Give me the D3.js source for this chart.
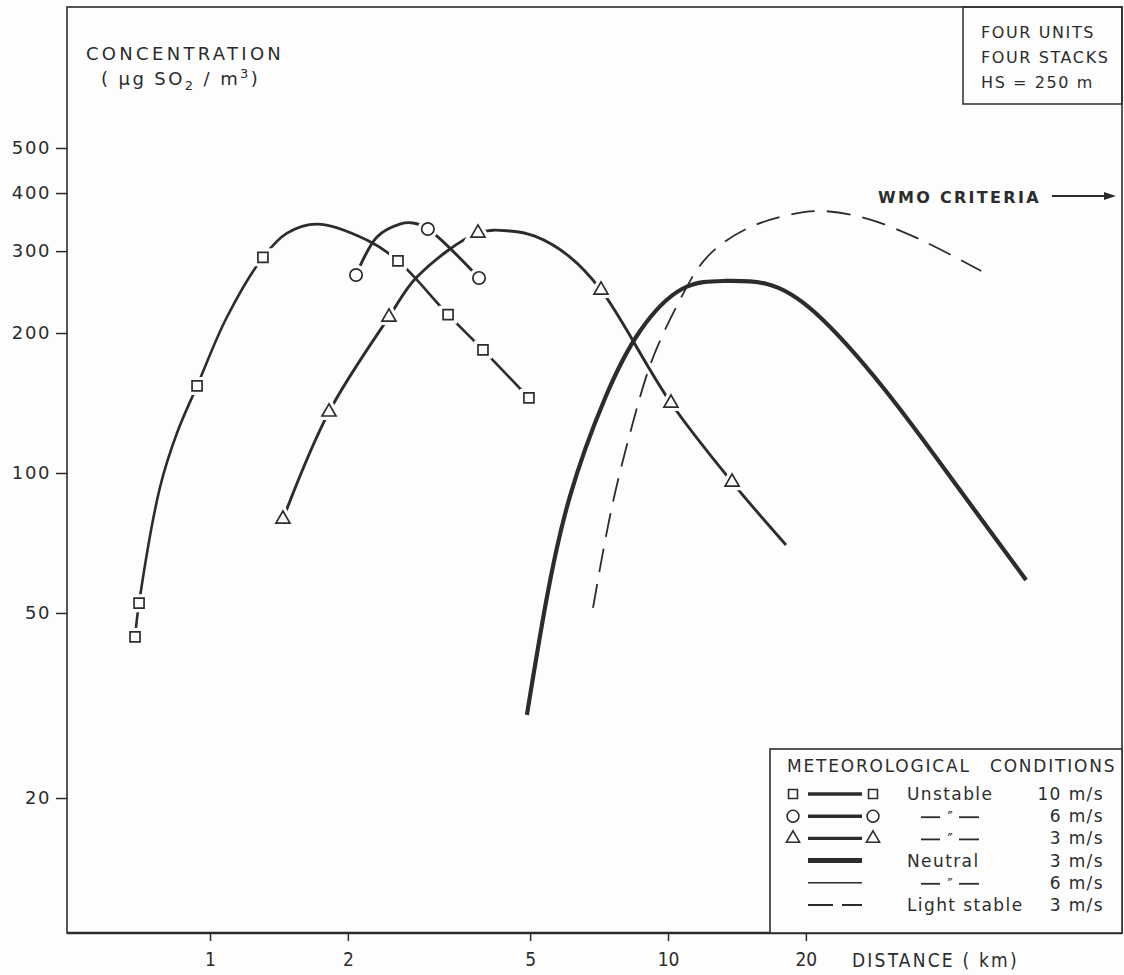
<!DOCTYPE html>
<html>
<head>
<meta charset="utf-8">
<script src="https://cdn.jsdelivr.net/npm/d3@7"></script>
<style>
  html, body { margin: 0; padding: 0; background: #fdfdfd; }
  svg { display: block; font-family: "DejaVu Sans", "Liberation Sans", sans-serif; }
</style>
</head>
<body>
<svg id="chart" width="1124" height="975"></svg>
<script>
// Ground-level SO2 concentration versus distance from the stacks (log-log)
const distanceTicks = [1, 2, 5, 10, 20];
const concentrationTicks = [20, 50, 100, 200, 300, 400, 500];

// Unstable, 10 m/s (squares)
const unstable10Dist = [0.686, 0.70, 0.778, 0.847, 0.937, 1.089, 1.305, 1.473, 1.713, 2.2, 2.573, 3.31, 3.945, 4.97];
const unstable10Conc = [44.4, 52.5, 93.3, 121.9, 153.9, 216.5, 291, 328, 343, 317, 286, 219, 184, 145];
const unstable10Marked = [0, 1, 4, 6, 10, 11, 12, 13];

// Unstable, 6 m/s (circles)
const unstable6Dist = [2.084, 2.315, 2.598, 2.775, 2.99, 3.867];
const unstable6Conc = [266.6, 321.9, 343, 344.9, 334.8, 262.7];
const unstable6Marked = [0, 4, 5];

// Unstable, 3 m/s (triangles)
const unstable3Dist = [1.443, 1.819, 2.459, 2.83, 3.847, 4.52, 5.12, 6.11, 7.14, 10.15, 13.8, 18.1];
const unstable3Conc = [79.6, 135.3, 216.5, 264, 328.2, 331.5, 323, 291.4, 247.5, 141.4, 95.6, 70.0];
const unstable3Marked = [0, 1, 2, 4, 8, 9, 10];

// Neutral, 3 m/s
const neutral3Dist = [4.92, 5.42, 6.11, 7.29, 8.69, 10.73, 13.32, 16.45, 21.0, 29.9, 42.6, 60.5];
const neutral3Conc = [30.2, 53.0, 89.2, 145.0, 202, 248.7, 258.8, 255, 220.8, 150.1, 94.2, 58.9];

// Light stable, 3 m/s
const stable3Dist = [6.86, 7.55, 8.39, 9.32, 10.73, 12.17, 14.8, 18.28, 21.8, 27.3, 35.7, 48.3];
const stable3Conc = [51.3, 84.9, 128.7, 179.4, 240.3, 291.4, 334.7, 358.7, 365.9, 351.8, 317, 271.9];

// Legend rows (null condition = ditto mark)
const legendConditions = ["Unstable", null, null, "Neutral", null, "Light stable"];
const legendSpeeds = ["10 m/s", "6 m/s", "3 m/s", "3 m/s", "6 m/s", "3 m/s"];

const INK = "#2c2c2c";
const PAPER = "#fdfdfd";
const svg = d3.select("#chart");

const x = d3.scaleLog().domain([1, 10]).range([210, 668]);
const y = d3.scaleLog().domain([10, 1000]).range([938, 8]);

// plot frame
const frame = { left: 67, top: 7, right: 1122, bottom: 933 };
svg.append("rect")
  .attr("x", frame.left).attr("y", frame.top)
  .attr("width", frame.right - frame.left).attr("height", frame.bottom - frame.top)
  .attr("fill", "none").attr("stroke", INK).attr("stroke-width", 1.6);
svg.append("line")
  .attr("x1", frame.left).attr("x2", frame.right)
  .attr("y1", frame.bottom).attr("y2", frame.bottom)
  .attr("stroke", INK).attr("stroke-width", 2.6);

// axes
const xAxis = svg.append("g")
  .attr("transform", `translate(0,${frame.bottom})`)
  .call(d3.axisBottom(x).tickValues(distanceTicks).tickFormat(d3.format("d")).tickSize(8).tickPadding(12));
xAxis.select(".domain").remove();
xAxis.selectAll("line").attr("stroke", INK).attr("stroke-width", 1.5);
xAxis.selectAll("text")
  .attr("fill", INK)
  .style("font-family", "'DejaVu Sans Condensed', 'Liberation Sans Narrow', 'DejaVu Sans', sans-serif")
  .style("font-size", "19px");

const yAxis = svg.append("g")
  .attr("transform", `translate(${frame.left},0)`)
  .call(d3.axisLeft(y).tickValues(concentrationTicks).tickFormat(d3.format("d")).tickSize(11).tickPadding(5));
yAxis.select(".domain").remove();
yAxis.selectAll("line").attr("stroke", INK).attr("stroke-width", 1.5);
yAxis.selectAll("text")
  .attr("fill", INK)
  .style("font-family", "'DejaVu Sans', sans-serif")
  .style("font-size", "18px")
  .style("letter-spacing", "1.6px");

// axis titles
const yTitle = svg.append("g").attr("fill", INK).style("font-size", "18px");
yTitle.append("text").attr("x", 86).attr("y", 60)
  .style("letter-spacing", "3.3px").text("CONCENTRATION");
const unitText = yTitle.append("text").attr("x", 101).attr("y", 85).style("letter-spacing", "2.4px");
unitText.append("tspan").text("( \u03bcg SO");
unitText.append("tspan").attr("dy", 5).style("font-size", "13px").text("2");
unitText.append("tspan").attr("dy", -5).text(" / m");
unitText.append("tspan").attr("dy", -7).style("font-size", "13px").text("3");
unitText.append("tspan").attr("dy", 7).text(")");

svg.append("text")
  .attr("x", 852).attr("y", 967)
  .attr("fill", INK)
  .style("font-family", "'DejaVu Sans Condensed', 'Liberation Sans Narrow', 'DejaVu Sans', sans-serif")
  .style("font-size", "19px")
  .style("letter-spacing", "2.2px")
  .text("DISTANCE ( km)");

// curves: centripetal Catmull-Rom through the marked series,
// natural splines for the long unmarked neutral / stable curves
const lineThrough = d3.line().x(d => x(d[0])).y(d => y(d[1])).curve(d3.curveCatmullRom.alpha(0.5));
const lineSmooth = d3.line().x(d => x(d[0])).y(d => y(d[1])).curve(d3.curveNatural);

function pairs(dist, conc) { return dist.map((d, i) => [d, conc[i]]); }

const curves = [
  { pts: pairs(stable3Dist, stable3Conc), width: 1.8, dash: "24,12", gen: lineSmooth },
  { pts: pairs(neutral3Dist, neutral3Conc), width: 4.2, dash: null, gen: lineSmooth },
  { pts: pairs(unstable10Dist, unstable10Conc), width: 2.6, dash: null, gen: lineThrough },
  { pts: pairs(unstable6Dist, unstable6Conc), width: 2.9, dash: null, gen: lineThrough },
  { pts: pairs(unstable3Dist, unstable3Conc), width: 2.9, dash: null, gen: lineThrough }
];

svg.append("g").selectAll("path").data(curves).join("path")
  .attr("d", d => d.gen(d.pts))
  .attr("fill", "none")
  .attr("stroke", INK)
  .attr("stroke-width", d => d.width)
  .attr("stroke-dasharray", d => d.dash)
  .attr("stroke-linecap", "butt");

// markers, with a paper-coloured halo so the line stops short of each symbol
const markerSets = [
  { pts: pairs(unstable10Dist, unstable10Conc).filter((_, i) => unstable10Marked.includes(i)), sym: d3.symbolSquare, size: 100 },
  { pts: pairs(unstable6Dist, unstable6Conc).filter((_, i) => unstable6Marked.includes(i)), sym: d3.symbolCircle, size: 120 },
  { pts: pairs(unstable3Dist, unstable3Conc).filter((_, i) => unstable3Marked.includes(i)), sym: d3.symbolTriangle, size: 85 }
];

markerSets.forEach(set => {
  const g = svg.append("g");
  const path = d3.symbol().type(set.sym).size(set.size)();
  g.selectAll("path.halo").data(set.pts).join("path")
    .attr("class", "halo")
    .attr("d", path)
    .attr("transform", d => `translate(${x(d[0])},${y(d[1])})`)
    .attr("fill", PAPER).attr("stroke", PAPER).attr("stroke-width", 8);
  g.selectAll("path.mark").data(set.pts).join("path")
    .attr("class", "mark")
    .attr("d", path)
    .attr("transform", d => `translate(${x(d[0])},${y(d[1])})`)
    .attr("fill", PAPER).attr("stroke", INK).attr("stroke-width", 1.7);
});

// WMO criteria annotation
svg.append("text")
  .attr("x", 878).attr("y", 203)
  .attr("fill", INK)
  .style("font-size", "16px").style("font-weight", "bold").style("letter-spacing", "2.3px")
  .text("WMO  CRITERIA");
svg.append("line")
  .attr("x1", 1052).attr("x2", 1106).attr("y1", 196).attr("y2", 196)
  .attr("stroke", INK).attr("stroke-width", 1.8);
svg.append("path")
  .attr("d", "M1104,192 L1116,196 L1104,200 Z")
  .attr("fill", INK);

// plant description box
svg.append("rect")
  .attr("x", 963).attr("y", frame.top).attr("width", frame.right - 963).attr("height", 97)
  .attr("fill", "none").attr("stroke", INK).attr("stroke-width", 1.5);
const plantLines = ["FOUR UNITS", "FOUR STACKS", "HS = 250 m"];
svg.append("g").selectAll("text").data(plantLines).join("text")
  .attr("x", 981).attr("y", (d, i) => 38 + i * 25)
  .attr("fill", INK)
  .style("font-size", "16px").style("letter-spacing", "1.6px")
  .text(d => d);

// legend
const legend = svg.append("g");
legend.append("rect")
  .attr("x", 770).attr("y", 749).attr("width", frame.right - 770).attr("height", frame.bottom - 749)
  .attr("fill", PAPER).attr("stroke", INK).attr("stroke-width", 1.6);
legend.append("text").attr("x", 787).attr("y", 772).attr("fill", INK)
  .style("font-size", "17px").style("letter-spacing", "1.8px").text("METEOROLOGICAL");
legend.append("text").attr("x", 990).attr("y", 772).attr("fill", INK)
  .style("font-size", "17px").style("letter-spacing", "1.8px").text("CONDITIONS");

const rowY = i => 794 + i * 22.2;
const legendSymbols = [d3.symbolSquare, d3.symbolCircle, d3.symbolTriangle, null, null, null];
const legendSizes = [80, 110, 75];
const legendLineWidths = [3.4, 3.4, 3.4, 5, 1.6, 2];

legendConditions.forEach((cond, i) => {
  const cy = rowY(i);
  legend.append("line").attr("x1", 808).attr("x2", 862).attr("y1", cy).attr("y2", cy)
    .attr("stroke", INK).attr("stroke-width", legendLineWidths[i])
    .attr("stroke-dasharray", i === 5 ? "25,9" : null);
  if (legendSymbols[i]) {
    const p = d3.symbol().type(legendSymbols[i]).size(legendSizes[i])();
    [793, 873].forEach(cx => {
      legend.append("path").attr("d", p).attr("transform", `translate(${cx},${cy})`)
        .attr("fill", PAPER).attr("stroke", INK).attr("stroke-width", 1.6);
    });
  }
  if (cond === null) {
    // ditto: short rule, double prime, short rule
    [[921, 940], [959, 979]].forEach(([a, b]) => {
      legend.append("line").attr("x1", a).attr("x2", b).attr("y1", cy + 1).attr("y2", cy + 1)
        .attr("stroke", INK).attr("stroke-width", 1.8);
    });
    legend.append("text").attr("x", 950).attr("y", cy + 7).attr("text-anchor", "middle")
      .attr("fill", INK).style("font-size", "15px").text("\u2033");
  } else {
    legend.append("text")
      .attr("x", 907).attr("y", cy + 6)
      .attr("fill", INK)
      .style("font-size", "17px").style("letter-spacing", "1.4px")
      .text(cond);
  }
  legend.append("text")
    .attr("x", 1104).attr("y", cy + 6)
    .attr("text-anchor", "end")
    .attr("fill", INK)
    .style("font-size", "17px").style("letter-spacing", "1.4px")
    .text(legendSpeeds[i]);
});
</script>
</body>
</html>
